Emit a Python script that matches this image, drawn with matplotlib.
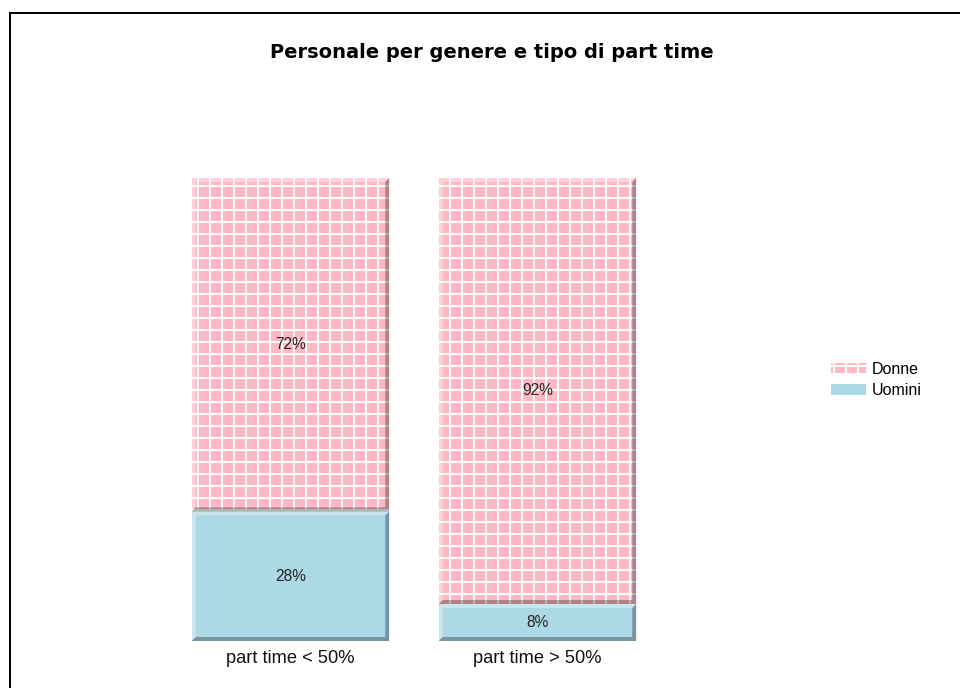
import matplotlib.pyplot as plt
from matplotlib.patches import Patch, Polygon, Rectangle

categories = ['part time < 50%', 'part time > 50%']
uomini = [28, 8]
donne = [72, 92]
series_names = ['Donne', 'Uomini']

PINK = '#FFB8C4'
BLUE = '#ADD8E6'

plt.rcParams['hatch.linewidth'] = 2.0

DPI = 72
fig = plt.figure(figsize=(960 / DPI, 688 / DPI), dpi=DPI)
ax = fig.add_axes([0.1482, 0.0683, 0.566, 0.673])
ax.set_xlim(-0.6, 1.6)
ax.set_ylim(0, 100)
ax.axis('off')

width = 0.8
x = range(len(categories))

# bevel size in pixels -> data units
ax_w_px = fig.get_figwidth() * DPI * 0.566
ax_h_px = fig.get_figheight() * DPI * 0.673
bx = 4 / ax_w_px * 2.2
by = 4 / ax_h_px * 100


def bevel(x0, x1, y0, y1):
    light = dict(facecolor='white', alpha=0.35, lw=0)
    dark = dict(facecolor='black', alpha=0.3, lw=0)
    ax.add_patch(Polygon([(x0, y1), (x1, y1), (x1 - bx, y1 - by), (x0 + bx, y1 - by)], **light))
    ax.add_patch(Polygon([(x0, y0), (x0, y1), (x0 + bx, y1 - by), (x0 + bx, y0 + by)], **light))
    ax.add_patch(Polygon([(x1, y0), (x1, y1), (x1 - bx, y1 - by), (x1 - bx, y0 + by)], **dark))
    ax.add_patch(Polygon([(x0, y0), (x1, y0), (x1 - bx, y0 + by), (x0 + bx, y0 + by)], **dark))


bars_u = ax.bar(x, uomini, width, color=BLUE, lw=0)
bars_d = ax.bar(x, donne, width, bottom=uomini, color=PINK, edgecolor='white',
                hatch='+', lw=0)

for i in x:
    x0, x1 = i - width / 2, i + width / 2
    bevel(x0, x1, 0, uomini[i])
    bevel(x0, x1, uomini[i], uomini[i] + donne[i])
    ax.text(i, uomini[i] / 2, f'{uomini[i]}%', ha='center', va='center',
            fontsize=15.5, color='#222222', family='Liberation Sans')
    ax.text(i, uomini[i] + donne[i] / 2, f'{donne[i]}%', ha='center', va='center',
            fontsize=15.5, color='#222222', family='Liberation Sans')
    ax.text(i, -2.0, categories[i], ha='center', va='top', fontsize=18.3,
            color='#111111', family='Liberation Sans')

fig.text(0.512, 0.923, 'Personale per genere e tipo di part time', ha='center',
         va='center', fontsize=19.5, fontweight='bold', family='DejaVu Sans')

handles = [Patch(facecolor=PINK, edgecolor='white', hatch='+', lw=0),
           Patch(facecolor=BLUE, lw=0)]
fig.legend(handles, series_names, loc='center left', bbox_to_anchor=(0.866, 0.448),
           frameon=False, prop={'family': 'Liberation Sans', 'size': 16},
           handlelength=2.15, handleheight=0.65, handletextpad=0.35,
           labelspacing=0.4, borderpad=0, borderaxespad=0)

# outer frame, open at the right and bottom
fig.add_artist(Rectangle((10 / 960, -0.1), 1.2, (688 - 13) / 688 + 0.1,
                         transform=fig.transFigure, fill=False, lw=2,
                         edgecolor='black'))

fig.savefig('out.png', dpi=DPI)
